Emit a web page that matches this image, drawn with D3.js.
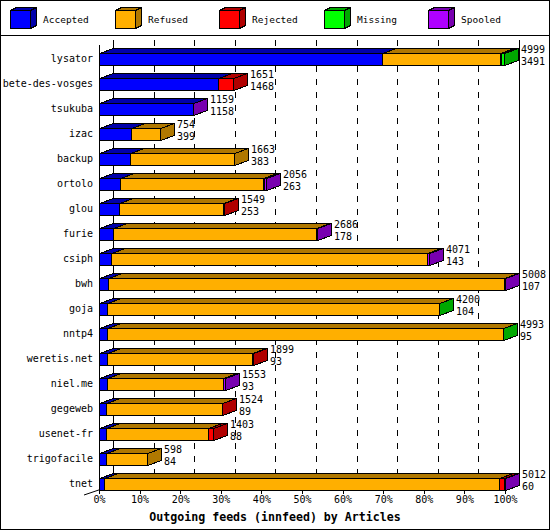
<!DOCTYPE html>
<html><head><meta charset="utf-8">
<script src="https://cdnjs.cloudflare.com/ajax/libs/d3/7.8.5/d3.min.js"></script>
<style>body{margin:0;background:#fff}svg{display:block}</style>
</head><body>
<script>
const categories = ["lysator","bete-des-vosges","tsukuba","izac","backup","ortolo","glou","furie","csiph","bwh","goja","nntp4","weretis.net","niel.me","gegeweb","usenet-fr","trigofacile","tnet"];
const totals   = [4999,1651,1159,754,1663,2056,1549,2686,4071,5008,4200,4993,1899,1553,1524,1403,598,5012];
const accepted = [3491,1468,1158,399,383,263,253,178,143,107,104,95,93,93,89,88,84,60];
const refused  = [1457,0,0,355,1280,1761,1280,2503,3906,4896,4090,4893,1791,1440,1430,1254,514,4877];
const rejected = [15,183,0,0,0,0,16,0,0,0,0,0,15,0,5,61,0,62];
const missing  = [36,0,0,0,0,10,0,0,0,0,6,5,0,0,0,0,0,0];
const spooled  = [0,0,1,0,0,22,0,5,22,5,0,0,0,20,0,0,0,13];
const seriesNames = ["Accepted","Refused","Rejected","Missing","Spooled"];
const tickLabels = ["0%","10%","20%","30%","40%","50%","60%","70%","80%","90%","100%"];
const xTitle = "Outgoing feeds (innfeed) by Articles";

const seriesData = [accepted, refused, rejected, missing, spooled];
const frontCol = ["#0000ff","#ffaf00","#ff0000","#00ff00","#af00ff"];
const shadeCol = ["#0000aa","#b07800","#b00000","#00a800","#7800b0"];

const W = 550, H = 530, DX = 14, DY = 5;
const FONT = "'DejaVu Sans Mono', monospace";
const svg = d3.select("body").append("svg").attr("width", W).attr("height", H)
  .style("font-family", FONT).attr("shape-rendering", "crispEdges");

// frame
svg.append("rect").attr("x",0.5).attr("y",0.5).attr("width",W-1).attr("height",H-1)
  .attr("fill","#fff").attr("stroke","#000");
svg.append("line").attr("x1",0).attr("x2",W).attr("y1",35.5).attr("y2",35.5).attr("stroke","#000");

const maxV = d3.max(totals);
const x = d3.scaleLinear().domain([0, maxV]).range([99, 505]);
const y = d3.scaleBand().domain(categories).range([46.5, 496.5]);
const tickVals = tickLabels.map((t,i) => maxV * i / 10);

const wallTop = 40, floorY = 490;

// back-wall grid
const g = svg.append("g");
tickVals.forEach((v,i) => {
  const xx = Math.round(x(v)) + DX + 0.5;
  g.append("line").attr("x1",xx).attr("x2",xx).attr("y1",wallTop).attr("y2",floorY-DY)
   .attr("stroke","#000").attr("stroke-dasharray", (i===0||i===10) ? null : "6,7");
});
// floor edge and front axis
g.append("line").attr("x1",99.5).attr("x2",99.5).attr("y1",wallTop+DY).attr("y2",floorY+0.5).attr("stroke","#000");
g.append("line").attr("x1",99.5).attr("x2",505.5).attr("y1",floorY+0.5).attr("y2",floorY+0.5).attr("stroke","#000");
g.append("line").attr("x1",84).attr("x2",113.5).attr("y1",495).attr("y2",485).attr("stroke","#000").attr("shape-rendering","auto");

// bars
const bars = svg.append("g");
categories.forEach((c,i) => {
  const cy = y(c) + y.bandwidth()/2;
  const top = Math.round(cy - 6) + 0.5, bot = top + 12;
  let cum = 0;
  seriesData.forEach((arr,s) => {
    const v = arr[i];
    if (!v) return;
    const x0 = Math.round(x(cum)) + 0.5;
    cum += v;
    const x1 = Math.round(x(cum)) + 0.5;
    const gg = bars.append("g").attr("stroke","#000").attr("stroke-width",1);
    gg.append("path").attr("fill", frontCol[s])
      .attr("d", `M${x0},${top}H${x1}V${bot}H${x0}Z`);
    gg.append("path").attr("fill", shadeCol[s])
      .attr("d", `M${x0},${top}L${x0+DX},${top-DY}H${x1+DX}L${x1},${top}Z`);
    gg.append("path").attr("fill", shadeCol[s])
      .attr("d", `M${x1},${top}L${x1+DX},${top-DY}V${bot-DY}L${x1},${bot}Z`);
  });
  const lx = Math.round(x(totals[i])) + DX + 3;
  svg.append("text").attr("x", lx).attr("y", cy - 10).attr("dy","0.35em")
    .attr("font-size", 10).text(totals[i]);
  svg.append("text").attr("x", lx).attr("y", cy + 2).attr("dy","0.35em")
    .attr("font-size", 10).text(accepted[i]);
});

// axes
const xa = svg.append("g").attr("transform", `translate(0,${floorY})`)
  .call(d3.axisBottom(x).tickValues(tickVals).tickFormat((d,i) => tickLabels[i]).tickSize(4).tickPadding(2));
xa.select(".domain").remove();
xa.selectAll("text").attr("font-family", FONT).attr("font-size", 10).attr("fill","#000");
xa.selectAll("line").attr("stroke","#000");

const ya = svg.append("g").attr("transform", "translate(99,0)")
  .call(d3.axisLeft(y).tickSize(0).tickPadding(6));
ya.select(".domain").remove();
ya.selectAll("text").attr("font-family", FONT).attr("font-size", 10).attr("fill","#000");

svg.append("text").attr("x", 275).attr("y", 517).attr("dy","0.35em").attr("text-anchor","middle")
  .attr("font-weight","bold").attr("font-size", 11.6).text(xTitle);

// legend
seriesNames.forEach((n,s) => {
  const bx = Math.round(10 + s*104.5) + 0.5, by = 10.5, bw = 20, bh = 18, ldx = 6, ldy = 3;
  const lg = svg.append("g").attr("stroke","#000");
  lg.append("path").attr("fill", frontCol[s]).attr("d", `M${bx},${by}H${bx+bw}V${by+bh}H${bx}Z`);
  lg.append("path").attr("fill", shadeCol[s]).attr("d", `M${bx},${by}L${bx+ldx},${by-ldy}H${bx+bw+ldx}L${bx+bw},${by}Z`);
  lg.append("path").attr("fill", shadeCol[s]).attr("d", `M${bx+bw},${by}L${bx+bw+ldx},${by-ldy}V${by+bh-ldy}L${bx+bw},${by+bh}Z`);
  svg.append("text").attr("x", bx + 32.5).attr("y", 20).attr("dy","0.35em")
    .attr("font-size", 9.5).text(n);
});
</script>
</body></html>
